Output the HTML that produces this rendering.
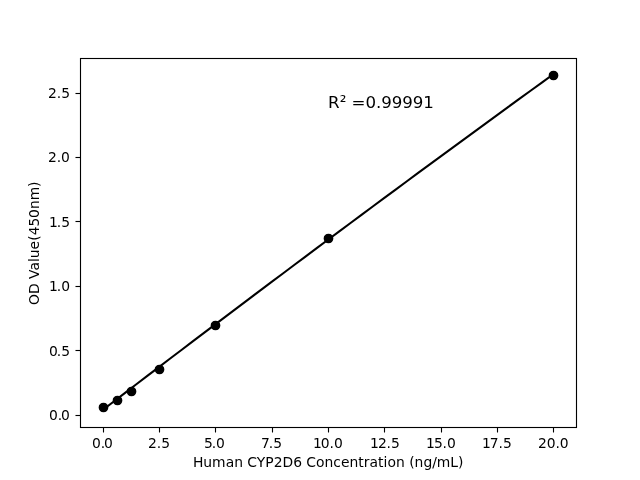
<!DOCTYPE html>
<html lang="en">
<head>
<meta charset="utf-8">
<title>Human CYP2D6 standard curve</title>
<style>
html,body{margin:0;padding:0;background:#fff;}
body{width:640px;height:480px;overflow:hidden;}
svg{display:block;}
text{font-family:"DejaVu Sans","Liberation Sans",sans-serif;fill:#000;}
.t10{font-size:13.889px;}
.t12{font-size:16.667px;}
.ax{stroke:#000;stroke-width:1.111;fill:none;stroke-linecap:butt;}
.sp{stroke:#000;stroke-width:1.111;fill:none;stroke-linecap:square;}
</style>
</head>
<body>
<svg width="640" height="480" viewBox="0 0 640 480">
<rect x="0" y="0" width="640" height="480" fill="#ffffff"/>
<polyline points="102.55,410.13 113.82,401.50 125.09,392.88 136.36,384.28 147.64,375.68 158.91,367.10 170.18,358.53 181.45,349.97 192.73,341.42 204.00,332.89 215.27,324.36 226.55,315.85 237.82,307.35 249.09,298.86 260.36,290.39 271.64,281.92 282.91,273.47 294.18,265.03 305.45,256.60 316.73,248.18 328.00,239.78 339.27,231.38 350.55,223.00 361.82,214.63 373.09,206.27 384.36,197.92 395.64,189.59 406.91,181.27 418.18,172.95 429.45,164.65 440.73,156.37 452.00,148.09 463.27,139.83 474.55,131.57 485.82,123.33 497.09,115.10 508.36,106.89 519.64,98.68 530.91,90.49 542.18,82.31 553.45,74.14" fill="none" stroke="#000" stroke-width="2.083" stroke-linecap="square" stroke-linejoin="round"/>
<g fill="#000" stroke="#000" stroke-width="1.389">
<circle cx="103.5" cy="407.5" r="4.167"/>
<circle cx="117.5" cy="400.5" r="4.167"/>
<circle cx="131.5" cy="391.5" r="4.167"/>
<circle cx="159.5" cy="369.5" r="4.167"/>
<circle cx="215.5" cy="325.5" r="4.167"/>
<circle cx="328.5" cy="238.5" r="4.167"/>
<circle cx="553.5" cy="75.5" r="4.167"/>
</g>
<g class="ax">
<line x1="103.5" y1="427.5" x2="103.5" y2="432.5"/>
<line x1="159.5" y1="427.5" x2="159.5" y2="432.5"/>
<line x1="215.5" y1="427.5" x2="215.5" y2="432.5"/>
<line x1="272.5" y1="427.5" x2="272.5" y2="432.5"/>
<line x1="328.5" y1="427.5" x2="328.5" y2="432.5"/>
<line x1="384.5" y1="427.5" x2="384.5" y2="432.5"/>
<line x1="441.5" y1="427.5" x2="441.5" y2="432.5"/>
<line x1="497.5" y1="427.5" x2="497.5" y2="432.5"/>
<line x1="553.5" y1="427.5" x2="553.5" y2="432.5"/>
<line x1="80.5" y1="58" x2="80.5" y2="428"/>
<line x1="576.5" y1="58" x2="576.5" y2="428"/>
</g>
<g fill="#000">
<rect x="75.5" y="415" width="5" height="1"/>
<rect x="75.5" y="414" width="4.5" height="3" fill-opacity="0.055"/>
<rect x="75.5" y="350" width="5" height="1"/>
<rect x="75.5" y="349" width="4.5" height="3" fill-opacity="0.055"/>
<rect x="75.5" y="286" width="5" height="1"/>
<rect x="75.5" y="285" width="4.5" height="3" fill-opacity="0.055"/>
<rect x="75.5" y="221" width="5" height="1"/>
<rect x="75.5" y="220" width="4.5" height="3" fill-opacity="0.055"/>
<rect x="75.5" y="157" width="5" height="1"/>
<rect x="75.5" y="156" width="4.5" height="3" fill-opacity="0.055"/>
<rect x="75.5" y="93" width="5" height="1"/>
<rect x="75.5" y="92" width="4.5" height="3" fill-opacity="0.055"/>
<rect x="80" y="58" width="497" height="1"/>
<rect x="80" y="57" width="497" height="3" fill-opacity="0.055"/>
<rect x="80" y="427" width="497" height="1"/>
<rect x="80" y="426" width="497" height="3" fill-opacity="0.055"/>
</g>
<text class="t10" x="91.89 100.70 104.12" y="447.73">0.0</text>
<text class="t10" x="148.12 156.81 161.36" y="447.73">2.5</text>
<text class="t10" x="203.98 211.67 216.09" y="447.73">5.0</text>
<text class="t10" x="260.98 268.79 273.34" y="447.73">7.5</text>
<text class="t10" x="312.92 320.86 329.56 334.11" y="447.73">10.0</text>
<text class="t10" x="369.91 377.97 386.55 391.09" y="447.73">12.5</text>
<text class="t10" x="425.90 433.96 442.54 447.09" y="447.73">15.0</text>
<text class="t10" x="481.89 489.70 498.53 502.95" y="447.73">17.5</text>
<text class="t10" x="538.00 546.81 555.39 559.81" y="447.73">20.0</text>
<text class="t10" x="192.92 203.34 212.02 225.78 234.28 242.95 247.36 256.81 265.16 273.66 282.61 293.28 301.86 306.28 316.09 324.45 333.25 340.88 349.53 358.33 363.77 369.47 378.11 383.55 387.52 395.89 404.69 409.22 414.62 423.55 432.23 436.78 450.30 458.03" y="466.72">Human CYP2D6 Concentration (ng/mL)</text>
<text class="t10" x="48.95 57.76 61.06" y="419.63">0.0</text>
<text class="t10" x="48.95 56.64 61.31" y="355.73">0.5</text>
<text class="t10" x="48.95 56.76 61.19" y="290.58">1.0</text>
<text class="t10" x="48.95 56.76 61.31" y="226.68">1.5</text>
<text class="t10" x="47.95 56.76 60.94" y="161.53">2.0</text>
<text class="t10" x="47.95 56.76 61.19" y="97.63">2.5</text>
<text class="t10" transform="translate(38.50,243.15) rotate(-90)" x="-61.88 -50.97 -40.28 -35.86 -27.45 -18.95 -15.09 -6.30 2.36 7.89 16.72 25.17 34.12 42.92 56.19" y="0">OD Value(450nm)</text>
<text class="t12" x="327.88 339.69 346.00 351.41 365.38 375.97 381.14 391.73 402.20 412.80 423.28" y="107.57">R² =0.99991</text>
</svg>
</body>
</html>
